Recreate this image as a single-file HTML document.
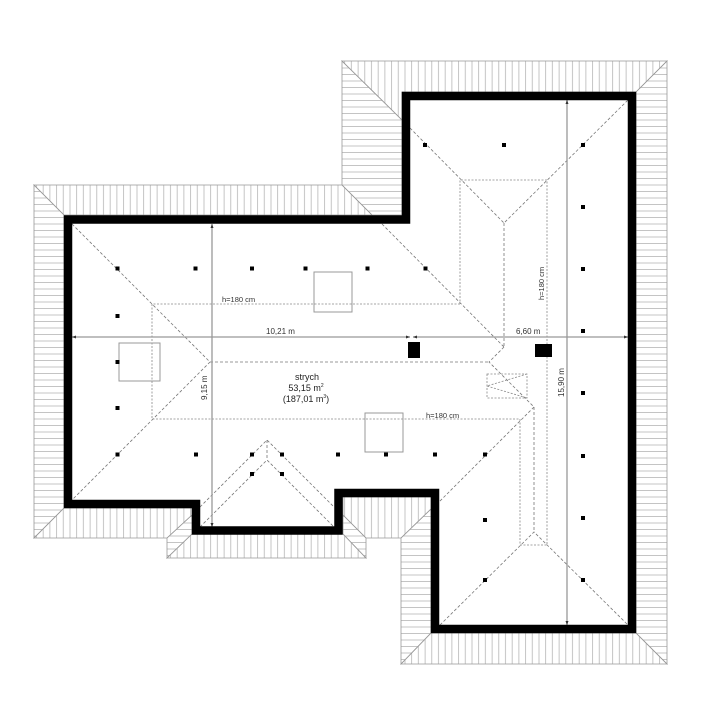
<!DOCTYPE html>
<html><head><meta charset="utf-8"><style>
html,body{margin:0;padding:0;background:#fff}
svg{display:block;font-family:"Liberation Sans",sans-serif}
</style></head><body>
<svg width="702" height="725" viewBox="0 0 702 725" xmlns="http://www.w3.org/2000/svg">
<defs>
<pattern id="pv" width="6.7" height="10" patternUnits="userSpaceOnUse"><line x1="3" y1="0" x2="3" y2="10" stroke="#b5b5b5" stroke-width="0.8"/></pattern>
<pattern id="ph" width="10" height="6.5" patternUnits="userSpaceOnUse"><line x1="0" y1="3" x2="10" y2="3" stroke="#b5b5b5" stroke-width="0.8"/></pattern>
</defs>
<g stroke="#999" stroke-width="0.8">
<polygon fill="url(#pv)" points="34,185 342,185 372,215 64,215"/>
<polygon fill="url(#pv)" points="342,61 667,61 636,92 402,92 402,120"/>
<polygon fill="url(#ph)" points="342,61 402,120 402,215 372,215 342,185"/>
<polygon fill="url(#ph)" points="667,61 667,664 636,633 636,92"/>
<polygon fill="url(#pv)" points="401,664 667,664 636,633 431,633"/>
<polygon fill="url(#ph)" points="401,538 431,509 431,633 401,664"/>
<polygon fill="url(#pv)" points="343,497 431,497 431,509 401,538 366,538 343,515"/>
<polygon fill="url(#pv)" points="167,558 366,558 343,534 192,534"/>
<polygon fill="url(#ph)" points="343,515 366,538 366,558 343,534"/>
<polygon fill="url(#ph)" points="192,515 167,538 167,558 192,534"/>
<polygon fill="url(#pv)" points="34,538 167,538 192,515 192,508 64,508"/>
<polygon fill="url(#ph)" points="34,185 64,215 64,508 34,538"/>
</g>
<!-- roof lines -->
<g stroke="#777" stroke-width="0.8" fill="none" stroke-dasharray="3,2">
<polyline points="72,224 210,362 72,500"/>
<line x1="210" y1="362" x2="489" y2="362"/>
<polyline points="410,128 504,223 628,100"/>
<line x1="504" y1="223" x2="504" y2="347"/>
<line x1="382" y1="224" x2="504" y2="347"/>
<polyline points="504,347 489,362 534,407"/>
<line x1="534" y1="407" x2="534" y2="532"/>
<line x1="534" y1="407" x2="439" y2="502"/>
<polyline points="440,625 534,532 628,625"/>
<polyline points="200,507 267,440 334,507"/>
<polyline points="200,527 267,460 334,527"/>
<line x1="267" y1="440" x2="267" y2="460"/>
</g>
<g stroke="#888" stroke-width="0.8" fill="none" stroke-dasharray="2,1.5">
<polyline points="460,304 152,304 152,419 520,419 520,545 547,545 547,180 460,180 460,304"/>
<rect x="487" y="374" width="40" height="24"/>
<polyline points="527,374 487,386 527,398"/>
</g>
<!-- boxes -->
<g stroke="#999" stroke-width="1" fill="none">
<rect x="314" y="272" width="38" height="40"/>
<rect x="365" y="413" width="38" height="39"/>
<rect x="119" y="343" width="41" height="38"/>
</g>
<!-- dims -->
<g stroke="#999" stroke-width="1.3">
<line x1="72" y1="337" x2="410" y2="337"/>
<line x1="413" y1="337" x2="628" y2="337"/>
<line x1="212" y1="224" x2="212" y2="527"/>
<line x1="567" y1="100" x2="567" y2="625"/>
</g>
<g fill="#333">
<polygon points="72,337 76,335.5 76,338.5"/><polygon points="410,337 406,335.5 406,338.5"/>
<polygon points="413,337 417,335.5 417,338.5"/><polygon points="628,337 624,335.5 624,338.5"/>
<polygon points="212,224 210.5,228 213.5,228"/><polygon points="212,527 210.5,523 213.5,523"/>
<polygon points="567,100 565.5,104 568.5,104"/><polygon points="567,625 565.5,621 568.5,621"/>
</g>
<!-- walls -->
<polygon points="68,219.5 406,219.5 406,96 632,96 632,629 435,629 435,493 338.5,493 338.5,530.5 196,530.5 196,504 68,504" fill="none" stroke="#000" stroke-width="8.5" stroke-linejoin="miter"/>
<rect x="408" y="342" width="12" height="16" fill="#000"/>
<rect x="535" y="344" width="17" height="13" fill="#000"/>
<!-- dots -->
<g fill="#000">
<rect x="115.5" y="266.5" width="4" height="4"/><rect x="193.5" y="266.5" width="4" height="4"/><rect x="250" y="266.5" width="4" height="4"/><rect x="303.5" y="266.5" width="4" height="4"/><rect x="365.5" y="266.5" width="4" height="4"/><rect x="423.5" y="266.5" width="4" height="4"/>
<rect x="115.5" y="314" width="4" height="4"/><rect x="115.5" y="360" width="4" height="4"/><rect x="115.5" y="406" width="4" height="4"/>
<rect x="115.5" y="452.5" width="4" height="4"/><rect x="194" y="452.5" width="4" height="4"/><rect x="250" y="452.5" width="4" height="4"/><rect x="280" y="452.5" width="4" height="4"/><rect x="336" y="452.5" width="4" height="4"/><rect x="384" y="452.5" width="4" height="4"/><rect x="433" y="452.5" width="4" height="4"/><rect x="483" y="452.5" width="4" height="4"/>
<rect x="250" y="472" width="4" height="4"/><rect x="280" y="472" width="4" height="4"/>
<rect x="423" y="143" width="4" height="4"/><rect x="502" y="143" width="4" height="4"/><rect x="581" y="143" width="4" height="4"/>
<rect x="581" y="205" width="4" height="4"/><rect x="581" y="267" width="4" height="4"/><rect x="581" y="329" width="4" height="4"/><rect x="581" y="391" width="4" height="4"/><rect x="581" y="454" width="4" height="4"/><rect x="581" y="516" width="4" height="4"/><rect x="581" y="578" width="4" height="4"/>
<rect x="483" y="518" width="4" height="4"/><rect x="483" y="578" width="4" height="4"/>
</g>
<!-- text -->
<g fill="#333" font-size="8">
<text x="222" y="302" font-size="7.5">h=180 cm</text>
<text x="426" y="418" font-size="7.5">h=180 cm</text>
<text x="544" y="300" font-size="7.5" transform="rotate(-90 544 300)">h=180 cm</text>
<text x="266" y="334">10,21 m</text>
<text x="516" y="334">6,60 m</text>
<text x="207" y="400" transform="rotate(-90 207 400)">9,15 m</text>
<text x="564" y="397" transform="rotate(-90 564 397)">15,90 m</text>
</g>
<g fill="#222" font-size="9" text-anchor="middle">
<text x="307" y="380">strych</text>
<text x="306" y="391">53,15 m<tspan font-size="5" dy="-4">2</tspan></text>
<text x="306" y="402">(187,01 m<tspan font-size="5" dy="-4">3</tspan><tspan dy="4">)</tspan></text>
</g>
</svg>
</body></html>
